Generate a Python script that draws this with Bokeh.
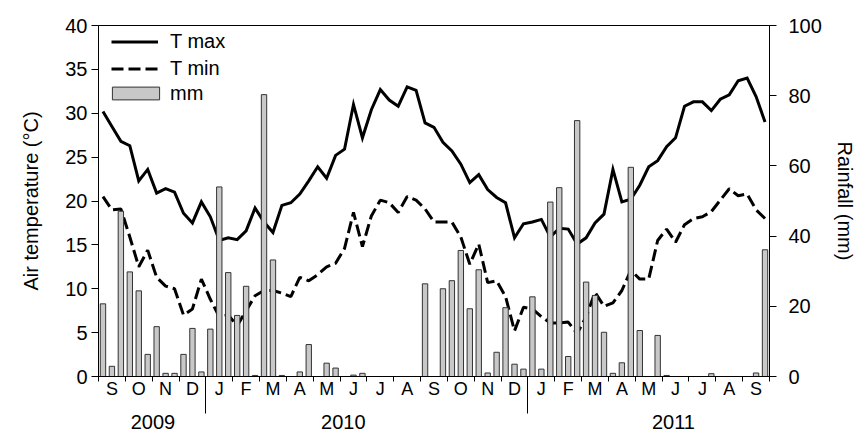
from bokeh.plotting import figure
from bokeh.models import (Range1d, LinearAxis, FixedTicker, Legend, LegendItem)
from bokeh.embed import file_html
from bokeh.resources import INLINE

# ---- data (10-day periods, Sep 2009 - Sep 2011) ----
month_labels = ["S", "O", "N", "D",
                "J", "F", "M", "A", "M", "J", "J", "A", "S", "O", "N", "D",
                "J", "F", "M", "A", "M", "J", "J", "A", "S"]
year_labels = ["2009", "2010", "2011"]

tmax = [30.2, 28.5, 26.8, 26.3, 22.3, 23.6, 20.9, 21.4, 21.0, 18.6, 17.5, 19.9,
        18.2, 15.5, 15.8, 15.6, 16.6, 19.2, 17.6, 16.4, 19.5, 19.8, 20.8, 22.3,
        23.9, 22.6, 25.2, 25.9, 31.0, 27.2, 30.4, 32.7, 31.5, 30.8, 33.0, 32.6,
        28.9, 28.4, 26.7, 25.7, 24.2, 22.1, 23.0, 21.3, 20.4, 19.8, 15.8, 17.4,
        17.6, 17.9, 15.9, 16.9, 16.8, 15.1, 15.8, 17.5, 18.5, 23.6, 19.9, 20.2,
        21.8, 23.9, 24.6, 26.2, 27.2, 30.8, 31.3, 31.3, 30.3, 31.6, 32.1, 33.7,
        34.0, 31.9, 29.0]

tmin = [20.5, 19.0, 19.1, 15.9, 12.5, 14.4, 11.3, 10.3, 10.0, 7.0, 7.7, 11.1,
        8.8, 6.8, 7.0, 5.8, 7.5, 9.2, 9.8, 9.8, 9.5, 9.1, 11.3, 10.9,
        11.6, 12.5, 12.9, 14.6, 18.7, 14.8, 18.3, 20.1, 19.8, 18.7, 20.5, 20.1,
        19.1, 17.6, 17.6, 17.6, 15.9, 12.8, 15.1, 10.7, 10.9, 9.1, 5.2, 7.9,
        7.7, 6.8, 6.1, 6.1, 6.2, 4.9, 6.8, 9.6, 8.0, 8.4, 9.8, 12.1,
        11.1, 11.1, 15.5, 16.8, 15.3, 17.3, 18.0, 18.2, 18.8, 20.1, 21.4, 20.6,
        20.8, 19.0, 18.0]

rain = [20.7, 2.9, 47.1, 29.8, 24.4, 6.3, 14.2, 0.9, 0.9, 6.3, 13.7, 1.3,
        13.5, 54.0, 29.6, 17.4, 25.7, 0.3, 80.3, 33.2, 0.3, 0.0, 1.3, 9.1,
        0.0, 3.8, 2.4, 0.0, 0.4, 0.9, 0.0, 0.0, 0.0, 0.0, 0.0, 0.0,
        26.4, 0.0, 25.0, 27.3, 35.9, 19.3, 30.4, 1.0, 6.9, 19.6, 3.5, 2.1,
        22.7, 2.1, 49.7, 53.8, 5.7, 72.9, 26.9, 23.1, 12.6, 0.9, 3.9, 59.6,
        13.1, 0.0, 11.7, 0.3, 0.0, 0.0, 0.0, 0.0, 0.8, 0.0, 0.0, 0.0,
        0.0, 1.0, 36.1]

FONT = "Liberation Sans"

# x in months since 1 Sep 2009 (three 10-day periods per month)
n = len(tmax)
xpos = [(i // 3) + ((i % 3) + 0.5) / 3 for i in range(n)]
n_months = len(month_labels)

p = figure(width=858, height=439,
           x_range=Range1d(0, n_months), y_range=Range1d(0, 40),
           output_backend="svg", toolbar_location=None,
           min_border_left=98, min_border_right=83,
           min_border_top=25, min_border_bottom=63)
p.extra_y_ranges = {"rain": Range1d(0, 100)}
p.xgrid.visible = False
p.ygrid.visible = False
p.outline_line_color = "black"
p.outline_line_width = 1
p.background_fill_color = "white"
p.border_fill_color = "white"

# x axis: month letters centred, ticks at month boundaries
xa = p.xaxis[0]
centres = [m + 0.5 for m in range(n_months)]
xa.ticker = FixedTicker(ticks=centres, minor_ticks=list(range(n_months + 1)))
xa.major_label_overrides = {c: lbl for c, lbl in zip(centres, month_labels)}
xa.major_tick_out = 0
xa.major_tick_in = 0
xa.minor_tick_out = 5
xa.minor_tick_in = 0
xa.minor_tick_line_color = "black"
xa.axis_line_color = "black"
xa.major_label_text_font = FONT
xa.major_label_text_font_size = "18px"
xa.major_label_text_color = "black"
xa.major_label_standoff = -3

# second axis below: years, with separators at 1 January
jan_starts = [i for i in range(1, n_months)
              if month_labels[i] == "J" and month_labels[i - 1] == "D"]
year_pos = [2.03, 9.12, 21.42]
ya2 = LinearAxis(ticker=FixedTicker(ticks=year_pos, minor_ticks=jan_starts))
ya2.major_label_overrides = {c: lbl for c, lbl in zip(year_pos, year_labels)}
ya2.axis_line_color = None
ya2.major_tick_line_color = None
ya2.major_tick_out = 0
ya2.major_tick_in = 0
ya2.minor_tick_line_color = "black"
ya2.minor_tick_in = 24
ya2.minor_tick_out = 12
ya2.major_label_standoff = 1
ya2.major_label_text_font = FONT
ya2.major_label_text_font_size = "20px"
ya2.major_label_text_color = "black"
p.add_layout(ya2, "below")

# left axis
ya = p.yaxis[0]
ya.ticker = FixedTicker(ticks=list(range(0, 41, 5)))
ya.major_tick_out = 7
ya.major_tick_in = 0
ya.major_label_standoff = 4
ya.major_label_text_font = FONT
ya.major_label_text_font_size = "20px"
ya.major_label_text_color = "black"
ya.axis_label = "Air temperature (°C)"
ya.axis_label_text_font = FONT
ya.axis_label_text_font_size = "20px"
ya.axis_label_text_font_style = "normal"
ya.axis_label_text_color = "black"
ya.axis_label_standoff = 20
ya.axis_line_color = "black"

# right axis
ra = LinearAxis(y_range_name="rain", ticker=FixedTicker(ticks=list(range(0, 101, 20))),
                axis_label="Rainfall (mm)")
ra.major_tick_out = 7
ra.major_tick_in = 0
ra.major_label_standoff = 12
ra.major_label_text_font = FONT
ra.major_label_text_font_size = "20px"
ra.major_label_text_color = "black"
ra.axis_label_text_font = FONT
ra.axis_label_text_font_size = "20px"
ra.axis_label_text_font_style = "normal"
ra.axis_label_text_color = "black"
ra.axis_label_standoff = 9
ra.axis_line_color = "black"
p.add_layout(ra, "right")

# series
l_max = p.line(xpos, tmax, line_color="black", line_width=3, line_join="miter")
l_min = p.line(xpos, tmin, line_color="black", line_width=3, line_dash="12 5")
bars = p.vbar(x=xpos, top=rain, bottom=0, width=0.2, y_range_name="rain",
              fill_color="#c8c8c8", line_color="#333333", line_width=1)

# legends
leg_lines = Legend(items=[LegendItem(label="T max", renderers=[l_max]),
                          LegendItem(label="T min", renderers=[l_min])],
                   location=(13, 294), orientation="vertical",
                   glyph_width=47, glyph_height=27, label_height=27,
                   label_standoff=12, spacing=0, padding=0, margin=0,
                   border_line_alpha=0, background_fill_alpha=0,
                   label_text_font=FONT, label_text_font_size="20px",
                   label_text_color="black")
leg_bar = Legend(items=[LegendItem(label="mm", renderers=[bars])],
                 location=(8, 270), orientation="vertical",
                 glyph_width=59, glyph_height=16, label_height=26,
                 label_standoff=5, spacing=0, padding=0, margin=0,
                 border_line_alpha=0, background_fill_alpha=0,
                 label_text_font=FONT, label_text_font_size="20px",
                 label_text_color="black")
p.add_layout(leg_lines)
p.add_layout(leg_bar)

open("out.html", "w").write(file_html(p, INLINE))
